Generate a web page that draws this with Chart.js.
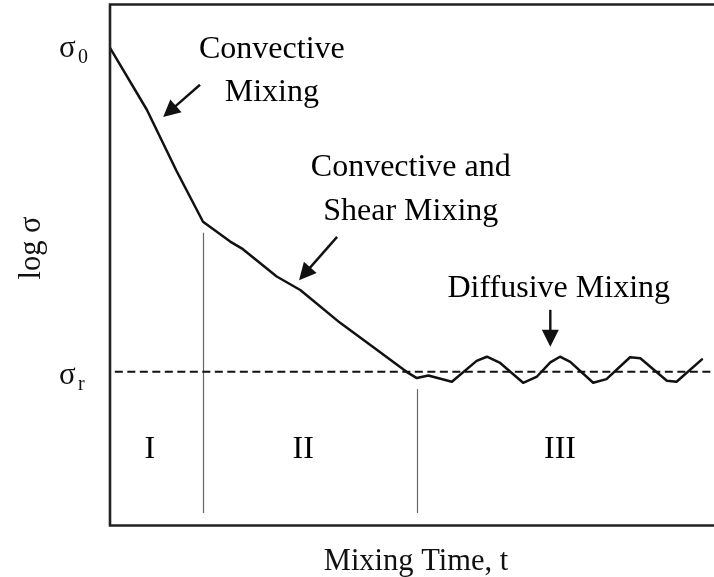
<!DOCTYPE html>
<html>
<head>
<meta charset="utf-8">
<script src="https://cdn.jsdelivr.net/npm/chart.js@4/dist/chart.umd.min.js"></script>
<style>
  html, body { margin: 0; padding: 0; background: #fff; }
  canvas { display: block; }
</style>
</head>
<body>
<canvas id="chart" width="714" height="577"></canvas>
<script>
// Mixing time (arbitrary units, 0-100) and log of the concentration variance (arbitrary units, 0-100)
const mixingTime = [0, 6.1, 11.0, 15.4, 19.9, 21.8, 27.6, 31.5, 38.1, 43.5, 49.1, 50.8,
  52.7, 56.6, 60.7, 62.4, 64.6, 68.4, 70.7, 72.9, 74.5, 76.2, 80.0, 82.2, 86.1, 87.8,
  92.2, 93.8, 98.0];
const logSigma = [91.6, 79.7, 68.0, 58.2, 54.4, 53.1, 47.7, 45.1, 38.8, 34.2, 29.4, 28.2,
  28.7, 27.5, 31.5, 32.3, 31.1, 27.3, 28.5, 31.2, 32.3, 31.3, 27.3, 28.0, 32.2, 32.0,
  27.7, 27.5, 31.8];

// Initial and residual variance levels
const sigma0 = 91.6;
const sigmaR = 29.4;

// Boundaries between the three mixing stages
const stageBounds = [15.4, 50.8];
const stageLabels = ['I', 'II', 'III'];
const stageLabelX = [6.6, 32.0, 74.5];

const xTitle = 'Mixing Time, t';
const yTitle = 'log \u03C3';

// Annotation texts and arrows (data units)
const notes = [
  { text: 'Convective', x: 26.8, y: 89.6 },
  { text: 'Mixing', x: 26.8, y: 81.3 },
  { text: 'Convective and', x: 49.8, y: 66.9 },
  { text: 'Shear Mixing', x: 49.8, y: 58.5 },
  { text: 'Diffusive Mixing', x: 74.3, y: 43.8 }
];
const arrows = [
  { from: [14.9, 84.5], to: [8.8, 78.3] },
  { from: [37.6, 55.3], to: [31.3, 47.0] },
  { from: [72.9, 41.3], to: [72.9, 34.2] }
];

const SERIF = '"Liberation Serif", "Times New Roman", Times, serif';
const INK = '#111';

function curveAt(t) {
  for (let i = 1; i < mixingTime.length; i++) {
    if (t <= mixingTime[i]) {
      const f = (t - mixingTime[i - 1]) / (mixingTime[i] - mixingTime[i - 1]);
      return logSigma[i - 1] + f * (logSigma[i] - logSigma[i - 1]);
    }
  }
  return logSigma[logSigma.length - 1];
}

function drawArrow(ctx, x1, y1, x2, y2) {
  const ang = Math.atan2(y2 - y1, x2 - x1);
  const headLen = 17, headHalf = 8.5;
  const bx = x2 - headLen * Math.cos(ang), by = y2 - headLen * Math.sin(ang);
  ctx.beginPath();
  ctx.moveTo(x1, y1);
  ctx.lineTo(bx + 2 * Math.cos(ang), by + 2 * Math.sin(ang));
  ctx.lineWidth = 2.4;
  ctx.strokeStyle = INK;
  ctx.stroke();
  ctx.beginPath();
  ctx.moveTo(x2, y2);
  ctx.lineTo(bx + headHalf * Math.sin(ang), by - headHalf * Math.cos(ang));
  ctx.lineTo(bx - headHalf * Math.sin(ang), by + headHalf * Math.cos(ang));
  ctx.closePath();
  ctx.fillStyle = INK;
  ctx.fill();
}

const decorations = {
  id: 'decorations',
  beforeDatasetsDraw(chart) {
    const { ctx, chartArea: a, scales: { x, y } } = chart;
    ctx.save();
    // stage boundaries
    ctx.strokeStyle = '#666';
    ctx.lineWidth = 1.2;
    stageBounds.forEach(b => {
      const px = Math.round(x.getPixelForValue(b)) + 0.5;
      ctx.beginPath();
      ctx.moveTo(px, y.getPixelForValue(curveAt(b)) + 11);
      ctx.lineTo(px, a.bottom - 12);
      ctx.stroke();
    });
    ctx.restore();
  },
  afterDatasetsDraw(chart) {
    const { ctx, chartArea: a, scales: { x, y }, width } = chart;
    ctx.save();
    // frame: left, top and bottom rules
    ctx.strokeStyle = '#222';
    ctx.lineWidth = 2.6;
    ctx.beginPath();
    ctx.moveTo(width, a.top + 0.5);
    ctx.lineTo(a.left, a.top + 0.5);
    ctx.lineTo(a.left, a.bottom + 0.5);
    ctx.lineTo(width, a.bottom + 0.5);
    ctx.stroke();

    ctx.fillStyle = '#000';
    ctx.textAlign = 'center';
    ctx.textBaseline = 'alphabetic';
    ctx.font = '32px ' + SERIF;
    notes.forEach(n => ctx.fillText(n.text, x.getPixelForValue(n.x), y.getPixelForValue(n.y)));

    stageLabels.forEach((s, i) => ctx.fillText(s, x.getPixelForValue(stageLabelX[i]), a.bottom - 67));

    arrows.forEach(ar => drawArrow(ctx,
      x.getPixelForValue(ar.from[0]), y.getPixelForValue(ar.from[1]),
      x.getPixelForValue(ar.to[0]), y.getPixelForValue(ar.to[1])));

    // level labels with subscripts
    const level = (val, sub, dy) => {
      const py = y.getPixelForValue(val) + dy;
      ctx.textAlign = 'left';
      ctx.font = '31px ' + SERIF;
      ctx.fillText('\u03C3', 59, py);
      ctx.font = '20px ' + SERIF;
      ctx.fillText(sub, 78, py + 6);
    };
    level(sigma0, '0', 9);
    level(sigmaR, 'r', 12);

    // axis titles
    ctx.textAlign = 'center';
    ctx.font = '30.5px ' + SERIF;
    ctx.fillText(xTitle, (a.left + width) / 2 + 4, 570);
    ctx.save();
    ctx.translate(40, 248);
    ctx.rotate(-Math.PI / 2);
    ctx.fillText(yTitle, 0, 0);
    ctx.restore();
    ctx.restore();
  }
};

new Chart(document.getElementById('chart'), {
  type: 'line',
  data: {
    datasets: [
      {
        label: 'log \u03C3',
        data: mixingTime.map((t, i) => ({ x: t, y: logSigma[i] })),
        borderColor: INK,
        borderWidth: 2.5,
        pointRadius: 0,
        tension: 0,
        borderJoinStyle: 'round',
        borderCapStyle: 'round'
      },
      {
        label: '\u03C3r',
        data: [{ x: 0.8, y: sigmaR }, { x: 100, y: sigmaR }],
        borderColor: INK,
        borderWidth: 2,
        borderDash: [8, 4.5],
        pointRadius: 0
      }
    ]
  },
  options: {
    responsive: false,
    animation: false,
    events: [],
    layout: { padding: { left: 110, top: 4, right: 0, bottom: 52 } },
    plugins: { legend: { display: false }, tooltip: { enabled: false } },
    scales: {
      x: { type: 'linear', min: 0, max: 100, display: false },
      y: { type: 'linear', min: 0, max: 100, display: false }
    }
  },
  plugins: [decorations]
});
</script>
</body>
</html>
